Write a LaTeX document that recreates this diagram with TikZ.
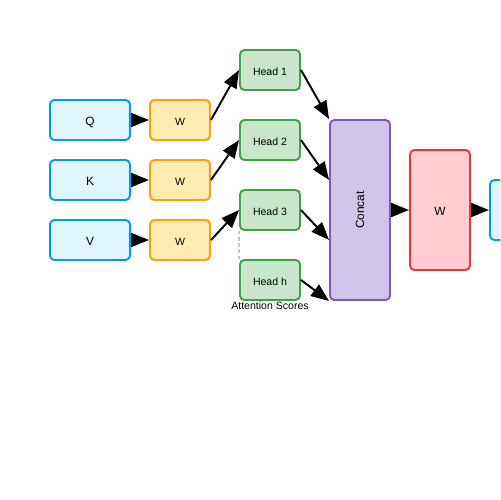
\documentclass[tikz,border=0pt]{standalone}
\usepackage{fontspec}
\setmainfont{Liberation Sans}
\usepackage{tikz}
\usetikzlibrary{arrows.meta}
\definecolor{inblue}{RGB}{3, 155, 229}
\definecolor{inbluefill}{RGB}{225, 245, 254}
\definecolor{worange}{RGB}{255, 160, 0}
\definecolor{worangefill}{RGB}{255, 236, 179}
\definecolor{headgreen}{RGB}{67, 160, 71}
\definecolor{headgreenfill}{RGB}{200, 230, 201}
\definecolor{catpurple}{RGB}{126, 87, 194}
\definecolor{catpurplefill}{RGB}{209, 196, 233}
\definecolor{outred}{RGB}{229, 57, 53}
\definecolor{outredfill}{RGB}{255, 205, 210}

\begin{document}
\begin{tikzpicture}[x=0.02cm, y=-0.02cm,
    box/.style={draw, line width=1.1pt, rounded corners=2.5pt, inner sep=0pt,
        minimum width=1.2cm, minimum height=0.8cm, text depth=0pt},
    inbox/.style={box, draw=inblue, fill=inbluefill, minimum width=1.6cm,
        font=\fontsize{6.8}{8}\selectfont, text height=6.6pt},
    wbox/.style={box, draw=worange, fill=worangefill, font=\fontsize{6}{7}\selectfont, text height=6pt},
    headbox/.style={box, draw=headgreen, fill=headgreenfill, font=\fontsize{6}{7}\selectfont, text height=6pt},
    flow/.style={-{Triangle[length=0.36cm, width=0.28cm]}, line width=1.1pt}]
    \clip (0,0) rectangle (500,500);
    \fill[white] (0,0) rectangle (500,500);
    % Eingaben und Projektionen
    \node[inbox] (q) at (90,120) {Q};
    \node[inbox] (k) at (90,180) {K};
    \node[inbox] (v) at (90,240) {V};
    \node[wbox] (wq) at (180,120) {W};
    \node[wbox] (wk) at (180,180) {W};
    \node[wbox] (wv) at (180,240) {W};
    % Koepfe
    \node[headbox] (h1) at (270,70) {Head 1};
    \node[headbox] (h2) at (270,140) {Head 2};
    \node[headbox] (h3) at (270,210) {Head 3};
    \node[headbox] (hh) at (270,280) {Head h};
    \node[font=\fontsize{6}{7}\selectfont, inner sep=0pt] (scores) at (270,306) {Attention Scores};
    \node[box, draw=catpurple, fill=catpurplefill, minimum height=3.6cm,
        font=\fontsize{6.8}{8}\selectfont] (concat) at (360,210) {\rotatebox{90}{Concat}};
    \node[box, draw=outred, fill=outredfill, minimum height=2.4cm,
        font=\fontsize{6.8}{8}\selectfont, text height=6.6pt] (wo) at (440,210) {W};
    \node[inbox, minimum height=1.2cm] (out) at (530,210) {};
    % Pfeile
    \draw[flow] (q) -- (wq);
    \draw[flow] (k) -- (wk);
    \draw[flow] (v) -- (wv);
    \draw[flow] (wq.east) -- (h1.west);
    \draw[flow] (wk.east) -- (h2.west);
    \draw[flow] (wv.east) -- (h3.west);
    \draw[flow] (h1.east) -- (concat.north west);
    \draw[flow] (h2.east) -- ([yshift=0.6cm]concat.west);
    \draw[flow] (h3.east) -- ([yshift=-0.6cm]concat.west);
    \draw[flow] (hh.east) -- (concat.south west);
    \draw[flow] (concat) -- (wo);
    \draw[flow] (wo) -- (out);
    \draw[gray!45, line width=0.8pt, dash pattern=on 2pt off 1.5pt] (h3.south west) -- (hh.north west);
\end{tikzpicture}
\end{document}
